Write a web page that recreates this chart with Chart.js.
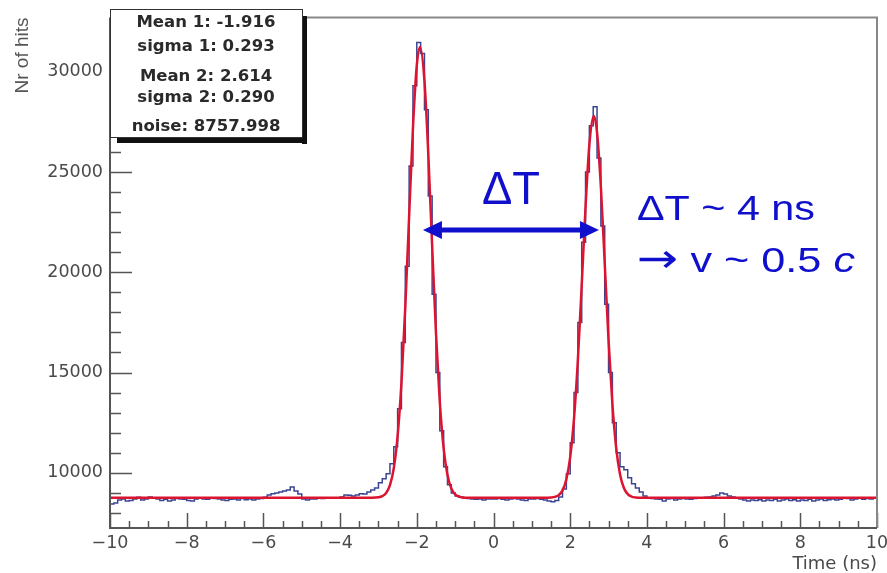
<!DOCTYPE html>
<html>
<head>
<meta charset="utf-8">
<script src="https://cdn.jsdelivr.net/npm/chart.js@4.4.1/dist/chart.umd.min.js"></script>
<style>
  html, body { margin: 0; padding: 0; background: #fff; }
  #wrap { width: 887px; height: 573px; }
</style>
</head>
<body>
<div id="wrap"><canvas id="timeChart" width="887" height="573"></canvas></div>
<script>
// histogram: 200 bins of 0.1 ns from -10 to 10
const binLow = -10;
const binWidth = 0.1;
const hitCounts = [
    8450, 8500, 8650, 8700, 8600, 8620, 8700, 8780, 8650, 8700,
    8800, 8750, 8700, 8620, 8680, 8600, 8650, 8720, 8700, 8680,
    8620, 8600, 8700, 8740, 8700, 8680, 8760, 8720, 8700, 8650,
    8620, 8680, 8700, 8650, 8720, 8660, 8700, 8640, 8700, 8720,
    8780, 8900, 8960, 9000, 9050, 9100, 9150, 9300, 9100, 8950,
    8700, 8650, 8700, 8700, 8750, 8720, 8740, 8760, 8750, 8760,
    8800, 8900, 8880, 8850, 8900, 8960, 8950, 9050, 9150, 9250,
    9500, 9700, 9950, 10450, 11300, 13200, 16500, 20300, 25300, 29300,
    31450, 30900, 28100, 23800, 18900, 15000, 12100, 10300, 9400, 9000,
    8850, 8800, 8750, 8720, 8700, 8680, 8700, 8650, 8700, 8700,
    8700, 8720, 8680, 8650, 8700, 8720, 8700, 8640, 8620, 8700,
    8700, 8720, 8680, 8640, 8600, 8560, 8620, 8800, 9200, 9950,
    11500, 14000, 17500, 21500, 25000, 27300, 28250, 25700, 22300, 18400,
    15000, 12500, 11000, 10300, 10150, 9750, 9450, 9250, 9050, 8850,
    8750, 8720, 8700, 8680, 8600, 8700, 8720, 8650, 8700, 8720,
    8700, 8680, 8720, 8760, 8750, 8780, 8800, 8850, 8900, 9000,
    8950, 8850, 8800, 8760, 8700, 8650, 8600, 8640, 8620, 8660,
    8600, 8650, 8620, 8680, 8600, 8640, 8700, 8620, 8660, 8600,
    8640, 8620, 8680, 8600, 8650, 8700, 8620, 8660, 8700, 8650,
    8680, 8750, 8720, 8650, 8700, 8740, 8680, 8720, 8700, 8760
];

// double gaussian + flat noise fit
const fitTimes = [
    -10, -3.4, -3.2, -3.0, -2.9, -2.8, -2.7, -2.6, -2.5, -2.4,
    -2.3, -2.2, -2.1, -2.0, -1.916, -1.8, -1.7, -1.6, -1.5, -1.4,
    -1.3, -1.2, -1.1, -1.0, -0.9, -0.8, -0.6, 1.3, 1.5, 1.6,
    1.7, 1.8, 1.9, 2.0, 2.1, 2.2, 2.3, 2.4, 2.5, 2.614,
    2.7, 2.8, 2.9, 3.0, 3.1, 3.2, 3.3, 3.4, 3.5, 3.6,
    3.7, 3.9, 10
];
const fitValues = [
    8758, 8758, 8760, 8782, 8838, 8995, 9385, 10232, 11841, 14501,
    18276, 22806, 27206, 30323, 31228, 29534, 25883, 21319, 16960, 13522,
    11223, 9893, 9223, 8927, 8813, 8774, 8758, 8758, 8770, 8800,
    8890, 9128, 9677, 10783, 12714, 15628, 19346, 23251, 26372, 27788,
    26970, 24248, 20460, 16606, 13430, 11228, 9917, 9241, 8937, 8817,
    8775, 8758, 8758
];

const xTicks = [-10, -8, -6, -4, -2, 0, 2, 4, 6, 8, 10];
const yTicks = [10000, 15000, 20000, 25000, 30000];
const xMinorStep = 0.5;
const yMinorStep = 1000;

const statsLines = ['Mean 1: -1.916', 'sigma 1: 0.293', 'Mean 2: 2.614', 'sigma 2: 0.290', 'noise: 8757.998'];

const arrowFrom = -1.84, arrowTo = 2.75, arrowLevel = 22100;

const histPoints = hitCounts.map((v, i) => ({ x: Math.round((binLow + i * binWidth) * 10) / 10, y: v }));
histPoints.push({ x: 10, y: hitCounts[hitCounts.length - 1] });
const fitPoints = fitTimes.map((t, i) => ({ x: t, y: fitValues[i] }));

const labelFont = { family: 'DejaVu Sans', size: 17.5 };
const blue = '#1010cc';

function drawStretched(ctx, parts, x, y, width) {
    let total = 0;
    parts.forEach(p => { ctx.font = p.font; total += ctx.measureText(p.text).width; });
    ctx.save();
    ctx.translate(x, y);
    ctx.scale(width / total, 1);
    let cx = 0;
    parts.forEach(p => {
        ctx.font = p.font;
        ctx.fillText(p.text, cx, 0);
        cx += ctx.measureText(p.text).width;
    });
    ctx.restore();
}

const rootFrame = {
    id: 'rootFrame',
    afterDatasetsDraw(chart) {
        const ctx = chart.ctx;
        const a = chart.chartArea;
        const xs = chart.scales.x, ys = chart.scales.y;
        ctx.save();
        // inward ticks
        ctx.strokeStyle = '#555';
        ctx.lineWidth = 1.5;
        ctx.beginPath();
        for (let v = ys.min - (ys.min % yMinorStep) + yMinorStep; v <= ys.max; v += yMinorStep) {
            const py = Math.round(ys.getPixelForValue(v)) + 0.5;
            const len = yTicks.includes(v) ? 22 : 11;
            ctx.moveTo(a.left, py);
            ctx.lineTo(a.left + len, py);
        }
        for (let v = xs.min; v <= xs.max + 1e-9; v += xMinorStep) {
            const px = Math.round(xs.getPixelForValue(v)) + 0.5;
            const len = xTicks.includes(Math.round(v * 10) / 10) ? 15 : 7;
            ctx.moveTo(px, a.bottom);
            ctx.lineTo(px, a.bottom - len);
        }
        ctx.stroke();

        // frame
        ctx.lineWidth = 2;
        ctx.strokeStyle = '#888';
        ctx.beginPath();
        ctx.moveTo(a.left, a.top);
        ctx.lineTo(a.right, a.top);
        ctx.lineTo(a.right, a.bottom);
        ctx.stroke();
        ctx.strokeStyle = '#555';
        ctx.beginPath();
        ctx.moveTo(a.left, a.top);
        ctx.lineTo(a.left, a.bottom);
        ctx.lineTo(a.right, a.bottom);
        ctx.stroke();

        // stats box with shadow
        const bx = a.left, by = 9, bw = 192, bh = 128;
        ctx.fillStyle = '#111';
        ctx.fillRect(bx + bw, by + 7, 5, bh);
        ctx.fillRect(bx + 7, by + bh, bw - 2, 6);
        ctx.fillStyle = '#fff';
        ctx.fillRect(bx, by, bw, bh);
        ctx.strokeStyle = '#333';
        ctx.lineWidth = 1;
        ctx.strokeRect(bx + 0.5, by + 0.5, bw, bh);
        ctx.fillStyle = '#2a2a2a';
        ctx.font = 'bold 16.5px "DejaVu Sans"';
        ctx.textAlign = 'center';
        ctx.textBaseline = 'middle';
        const lineY = [23, 47, 77, 98, 127];
        statsLines.forEach((s, i) => ctx.fillText(s, bx + bw / 2, lineY[i]));

        // delta T arrow
        const x1 = xs.getPixelForValue(arrowFrom), x2 = xs.getPixelForValue(arrowTo);
        const ay = ys.getPixelForValue(arrowLevel);
        const head = 19, half = 9;
        ctx.strokeStyle = blue;
        ctx.fillStyle = blue;
        ctx.lineWidth = 5;
        ctx.beginPath();
        ctx.moveTo(x1 + head - 2, ay);
        ctx.lineTo(x2 - head + 2, ay);
        ctx.stroke();
        ctx.beginPath();
        ctx.moveTo(x1, ay);
        ctx.lineTo(x1 + head, ay - half);
        ctx.lineTo(x1 + head, ay + half);
        ctx.closePath();
        ctx.moveTo(x2, ay);
        ctx.lineTo(x2 - head, ay - half);
        ctx.lineTo(x2 - head, ay + half);
        ctx.closePath();
        ctx.fill();

        // annotations
        ctx.textAlign = 'left';
        ctx.textBaseline = 'alphabetic';
        const f46 = '46px "Liberation Sans"';
        const f35 = '35px "Liberation Sans"';
        drawStretched(ctx, [{ text: '\u0394T', font: f46 }],
            xs.getPixelForValue(-0.30), ys.getPixelForValue(23416), 58);
        drawStretched(ctx, [{ text: '\u0394T ~ 4 ns', font: f35 }],
            xs.getPixelForValue(3.742), ys.getPixelForValue(22629), 178);
        drawStretched(ctx, [
                { text: '\u2192', font: '40px "DejaVu Sans"' },
                { text: ' v ~ 0.5 ', font: f35 },
                { text: 'c', font: 'italic ' + f35 }
            ],
            xs.getPixelForValue(3.742), ys.getPixelForValue(20025), 218);
        ctx.restore();
    }
};

const ctx = document.getElementById('timeChart').getContext('2d');

const timeChart = new Chart(ctx, {
    type: 'line',
    data: {
        datasets: [
            {
                label: 'fit',
                data: fitPoints,
                borderColor: '#dc1430',
                borderWidth: 2.5,
                pointRadius: 0,
                cubicInterpolationMode: 'monotone',
                order: 1
            },
            {
                label: 'hits',
                data: histPoints,
                borderColor: '#3a4592',
                borderWidth: 1.5,
                pointRadius: 0,
                stepped: 'before',
                order: 2
            }
        ]
    },
    options: {
        responsive: false,
        animation: false,
        layout: { padding: { left: 0, top: 10, right: 10, bottom: 0 } },
        plugins: { legend: { display: false }, tooltip: { enabled: false } },
        scales: {
            x: {
                type: 'linear',
                min: -10,
                max: 10,
                afterBuildTicks: s => { s.ticks = xTicks.map(v => ({ value: v })); },
                afterFit: s => { s.height = 45; s.paddingLeft = 0; s.paddingRight = 0; },
                grid: { display: false, drawTicks: false },
                border: { display: false },
                ticks: {
                    font: labelFont,
                    color: '#4a4a4a',
                    padding: 5,
                    maxRotation: 0,
                    autoSkip: false,
                    callback: v => (v < 0 ? '\u2212' + Math.abs(v) : String(v))
                },
                title: {
                    display: true,
                    text: 'Time (ns)',
                    align: 'end',
                    color: '#4a4a4a',
                    font: { family: 'DejaVu Sans', size: 18, lineHeight: 1.0 },
                    padding: 0
                }
            },
            y: {
                min: 7250,
                max: 32700,
                afterBuildTicks: s => { s.ticks = yTicks.map(v => ({ value: v })); },
                afterFit: s => { s.width = 110; },
                grid: { display: false, drawTicks: false },
                border: { display: false },
                ticks: {
                    font: labelFont,
                    color: '#4a4a4a',
                    padding: 7,
                    autoSkip: false,
                    callback: v => String(v)
                },
                title: {
                    display: true,
                    text: 'Nr of hits',
                    align: 'end',
                    color: '#555',
                    font: { family: 'Liberation Sans', size: 19 },
                    padding: { top: 11, bottom: 0 }
                }
            }
        }
    },
    plugins: [rootFrame]
});
</script>
</body>
</html>
